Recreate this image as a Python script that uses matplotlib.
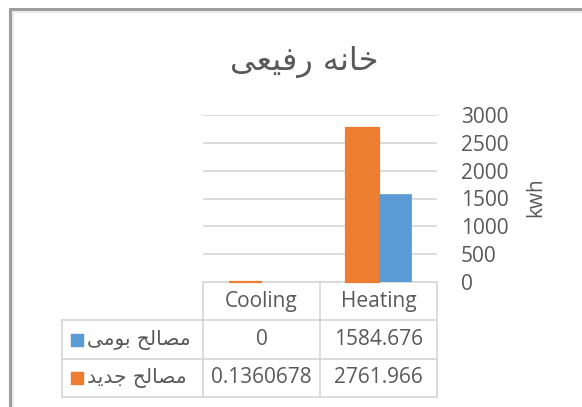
import matplotlib.pyplot as plt
from matplotlib.lines import Line2D
import numpy as np

# ---- data ----
title = "خانه رفیعی"
categories = ["Cooling", "Heating"]
series_names = ["مصالح بومی", "مصالح جدید"]
local_vals = [0, 1584.676]
new_vals = [0.1360678, 2761.966]
cell_text = [["0", "1584.676"], ["0.1360678", "2761.966"]]
y_ticks = [0, 500, 1000, 1500, 2000, 2500, 3000]
y_label = "kwh"

BLUE = "#5B9BD5"
ORANGE = "#ED7D31"
TXT = "#595959"
GRID = "#D9D9D9"

plt.rcParams['font.family'] = ['Open Sans', 'DejaVu Sans']

# ---- tiny arabic shaper (matplotlib does no joining / bidi) ----
FORMS = {
    'ا': ('\uFE8D', '\uFE8E', None, None),
    'ب': ('\uFE8F', '\uFE90', '\uFE91', '\uFE92'),
    'ج': ('\uFE9D', '\uFE9E', '\uFE9F', '\uFEA0'),
    'ح': ('\uFEA1', '\uFEA2', '\uFEA3', '\uFEA4'),
    'خ': ('\uFEA5', '\uFEA6', '\uFEA7', '\uFEA8'),
    'د': ('\uFEA9', '\uFEAA', None, None),
    'ر': ('\uFEAD', '\uFEAE', None, None),
    'ص': ('\uFEB9', '\uFEBA', '\uFEBB', '\uFEBC'),
    'ع': ('\uFEC9', '\uFECA', '\uFECB', '\uFECC'),
    'ف': ('\uFED1', '\uFED2', '\uFED3', '\uFED4'),
    'ل': ('\uFEDD', '\uFEDE', '\uFEDF', '\uFEE0'),
    'م': ('\uFEE1', '\uFEE2', '\uFEE3', '\uFEE4'),
    'ن': ('\uFEE5', '\uFEE6', '\uFEE7', '\uFEE8'),
    'ه': ('\uFEE9', '\uFEEA', '\uFEEB', '\uFEEC'),
    'و': ('\uFEED', '\uFEEE', None, None),
    'ی': ('\uFBFC', '\uFBFD', '\uFBFE', '\uFBFF'),
}


def shape(s):
    out = []
    for i, ch in enumerate(s):
        if ch not in FORMS:
            out.append(ch)
            continue
        prev = s[i - 1] if i > 0 else None
        nxt = s[i + 1] if i + 1 < len(s) else None
        join_prev = prev in FORMS and FORMS[prev][2] is not None
        join_next = nxt in FORMS and FORMS[ch][2] is not None
        iso, fin, ini, med = FORMS[ch]
        if join_prev and join_next:
            out.append(med)
        elif join_prev:
            out.append(fin)
        elif join_next:
            out.append(ini)
        else:
            out.append(iso)
    return ''.join(out)[::-1]


W, H = 582, 407
fig = plt.figure(figsize=(W / 100, H / 100), dpi=100)

# chart area frame (cut by the screenshot on the right / bottom)
fig.add_artist(Line2D([10 / W, 10 / W], [0, 1 - 9 / H], color="#9E9E9E", lw=2.2))
fig.add_artist(Line2D([10 / W, 1], [1 - 9 / H, 1 - 9 / H], color="#9E9E9E", lw=2.2))
fig.add_artist(Line2D([12.5 / W, 12.5 / W], [0, 1 - 11.5 / H], color="#E6E6E6", lw=1.2))
fig.add_artist(Line2D([12.5 / W, 1], [1 - 11.5 / H, 1 - 11.5 / H], color="#E6E6E6", lw=1.2))

# plot area
x0, x1 = 203, 437
yb, yt = 282, 115
ax = fig.add_axes([x0 / W, 1 - yb / H, (x1 - x0) / W, (yb - yt) / H])
ax.set_zorder(3)
ax.patch.set_alpha(0)
x = np.arange(len(categories))
bw = 0.28
ax.bar(x - bw / 2, new_vals, bw, color=ORANGE, edgecolor=ORANGE, linewidth=1.6,
       zorder=3, clip_on=False)
ax.bar(x + bw / 2, local_vals, bw, color=BLUE, edgecolor=BLUE, linewidth=0.5, zorder=3)
ax.set_xlim(-0.5, len(categories) - 0.5)
ax.set_ylim(0, 3000)
ax.set_yticks(y_ticks)
ax.set_xticks([])
ax.yaxis.tick_right()
ax.tick_params(axis='y', length=0, pad=17, labelsize=15, labelcolor=TXT)
for lab in ax.get_yticklabels():
    lab.set_horizontalalignment('left')
ax.grid(axis='y', color=GRID, lw=1.3, zorder=0)
for sp in ax.spines.values():
    sp.set_visible(False)

fig.text(536 / W, 1 - 197 / H, y_label, rotation=90, ha='center', va='center',
         fontsize=15, color=TXT)
fig.text(304 / W, 1 - 62 / H, shape(title), ha='center', va='center',
         fontsize=23, color=TXT, family=['DejaVu Sans'])

# data table under the plot, columns share the category positions
cat_px = (x1 - x0) / len(categories)
lead = (x0 - 62) / cat_px
tb = 397
tax = fig.add_axes([62 / W, 1 - tb / H, (x1 - 62) / W, (tb - yb) / H])
left = -0.5 - lead
right = len(categories) - 0.5
tax.set_xlim(left, right)
tax.set_ylim(3, 0)
tax.axis('off')
lk = dict(color=GRID, lw=1.3, clip_on=False)
tax.plot([-0.5, right], [0, 0], **lk)
for r in [1, 2, 3]:
    tax.plot([left, right], [r, r], **lk)
for c in np.arange(-0.5, right + 0.01, 1.0):
    tax.plot([c, c], [0, 3], **lk)
tax.plot([left, left], [1, 3], **lk)

for i, cat in enumerate(categories):
    tax.text(i, 0.5, cat, ha='center', va='center', fontsize=15, color=TXT)
for r, (name, col) in enumerate(zip(series_names, [BLUE, ORANGE])):
    for i in range(len(categories)):
        tax.text(i, r + 1.5, cell_text[r][i], ha='center', va='center',
                 fontsize=15, color=TXT)
    tax.scatter([left + 14.5 / cat_px], [r + 1.5], marker='s', s=80, color=col,
                clip_on=False)
    tax.text(left + 25 / cat_px, r + 1.5, shape(name), ha='left', va='center',
             fontsize=14.5, color=TXT, family=['DejaVu Sans'])

fig.savefig("out.png", dpi=100)
